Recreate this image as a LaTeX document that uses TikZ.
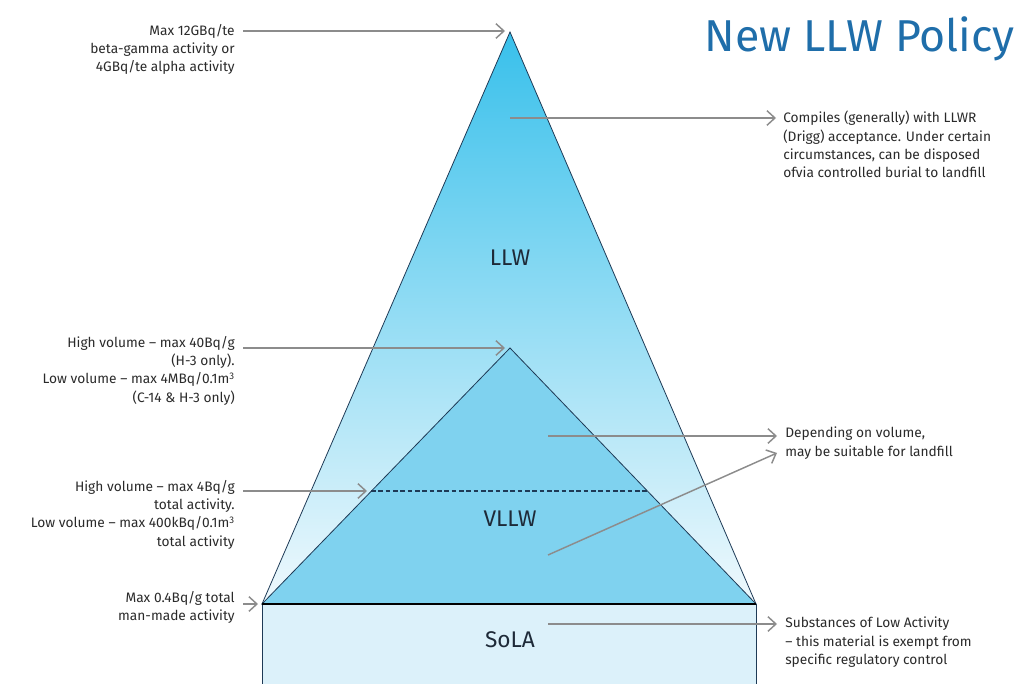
\documentclass[tikz,border=0pt]{standalone}
\usepackage{fontspec}
\setmainfont{Fira Sans}
\usetikzlibrary{arrows.meta}
\definecolor{edge}{HTML}{1E3A56}
\definecolor{apexblue}{HTML}{38C0EB}
\definecolor{paleblue}{HTML}{F0F9FD}
\definecolor{vllwblue}{HTML}{7FD2EF}
\definecolor{solablue}{HTML}{DCF1FA}
\definecolor{baseline}{HTML}{2B6A8A}
\definecolor{pointer}{HTML}{8C8C8C}
\definecolor{labeltext}{HTML}{2A2A2A}
\definecolor{zonetext}{HTML}{1E2A38}
\definecolor{titleblue}{HTML}{1F6EAA}
\begin{document}
\begin{tikzpicture}[x=0.75pt,y=-0.75pt,
  outline/.style={draw=edge,line width=0.6pt},
  pointerarrow/.style={draw=pointer,line width=1.1pt,
    -{Straight Barb[length=6pt,width=11pt,line width=1.1pt]}},
  lblleft/.style={anchor=north east,align=right,inner sep=0pt,text=labeltext,
    font=\fontsize{10.3}{13.7}\selectfont},
  lblright/.style={anchor=north west,align=left,inner sep=0pt,text=labeltext,
    font=\fontsize{10.3}{13.7}\selectfont},
  zone/.style={text=zonetext,font=\fontsize{17}{20}\selectfont}]
\useasboundingbox (0,0) rectangle (1021,684);

% key points of the pyramid
\coordinate (apex) at (510,32);
\coordinate (bl) at (262,604);
\coordinate (br) at (756,604);
\coordinate (vapex) at (510,348);
\coordinate (dl) at (371,491);
\coordinate (dr) at (648,491);
\coordinate (sbl) at (262,684);
\coordinate (sbr) at (756,684);

% SoLA block
\fill[solablue] (bl) rectangle (sbr);
\draw[outline] (sbl) -- (bl) (br) -- (sbr);

% LLW triangle with fading shading
\shade[top color=apexblue,bottom color=paleblue] (apex) -- (bl) -- (br) -- cycle;
\draw[outline] (apex) -- (bl) -- (br) -- cycle;

% VLLW triangle
\filldraw[fill=vllwblue,draw=edge,line width=0.6pt] (vapex) -- (bl) -- (br) -- cycle;
\draw[edge,line width=0.8pt,dash pattern=on 3.5pt off 2pt] (dl) -- (dr);
\draw[baseline,line width=1.3pt] (bl) -- (br);

% zone names
\node[zone] (llw) at (510,258) {LLW};
\node[zone] (vllw) at (510,519) {VLLW};
\node[zone] (sola) at (510,640) {SoLA};

% title
\node[anchor=base east,inner sep=0pt,text=titleblue,
  font=\fontsize{33.5}{40}\selectfont] (title) at (1015,52) {New LLW Policy};

% left-hand notes
\node[lblleft] (n1) at (235,24) {Max 12GBq/te\\beta-gamma activity or\\4GBq/te alpha activity};
\node[lblleft] (n3) at (235,336) {High volume – max 40Bq/g\\(H-3 only).\\Low volume – max 4MBq/0.1m\textsuperscript{3}\\(C-14 \& H-3 only)};
\node[lblleft] (n4) at (235,480) {High volume – max 4Bq/g\\total activity.\\Low volume – max 400kBq/0.1m\textsuperscript{3}\\total activity};
\node[lblleft] (n7) at (235,591) {Max 0.4Bq/g total\\man-made activity};

% right-hand notes
\node[lblright] (n2) at (783,111) {Compiles (generally) with LLWR\\(Drigg) acceptance. Under certain\\circumstances, can be disposed\\ofvia controlled burial to landfill};
\node[lblright] (n5) at (785,427) {Depending on volume,\\may be suitable for landfill};
\node[lblright] (n8) at (785,617) {Substances of Low Activity\\– this material is exempt from\\specific regulatory control};

% pointer ends
\coordinate (t1) at (243,31);
\coordinate (h1) at (505,31);
\coordinate (t2) at (510,118);
\coordinate (h2) at (776,118);
\coordinate (t3) at (243,348);
\coordinate (h3) at (505,348);
\coordinate (t4) at (243,491);
\coordinate (h4) at (367,491);
\coordinate (t5) at (548,436);
\coordinate (h5) at (777,436);
\coordinate (t6) at (548,555);
\coordinate (h6) at (777,453);
\coordinate (t7) at (243,604);
\coordinate (h7) at (258,604);
\coordinate (t8) at (548,624);
\coordinate (h8) at (777,624);

\draw[pointerarrow] (t1) -- (h1);
\draw[pointerarrow] (t2) -- (h2);
\draw[pointerarrow] (t3) -- (h3);
\draw[pointerarrow] (t4) -- (h4);
\draw[pointerarrow] (t5) -- (h5);
\draw[pointerarrow] (t6) -- (h6);
\draw[pointerarrow] (t7) -- (h7);
\draw[pointerarrow] (t8) -- (h8);
\end{tikzpicture}
\end{document}
